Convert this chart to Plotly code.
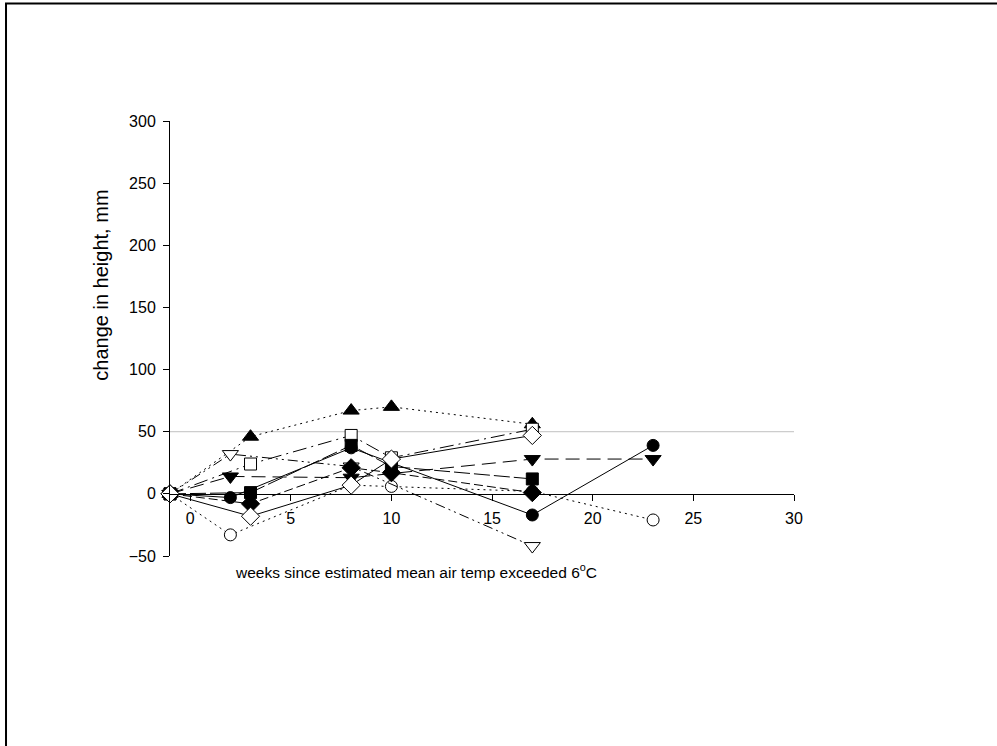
import plotly.graph_objects as go

# ---- data ----
x_fcircle = [-1, 2, 8, 17, 23]
y_fcircle = [0, -3, 37, -17, 39]

x_ocircle = [-1, 2, 8, 10, 17, 23]
y_ocircle = [0, -33, 7, 6, 2, -21]

x_ftriup = [-1, 3, 8, 10, 17]
y_ftriup = [0, 46, 67, 70, 56]

x_otridn = [-1, 2, 8, 17]
y_otridn = [0, 32, 22, -42]

x_ftridn = [-1, 2, 8, 17, 23]
y_ftridn = [0, 14, 13, 28, 28]

x_osquare = [-1, 3, 8, 10, 17]
y_osquare = [0, 24, 47, 29, 52]

x_fsquare = [-1, 3, 8, 10, 17]
y_fsquare = [0, 1, 39, 22, 12]

x_fdiamond = [-1, 3, 8, 10, 17]
y_fdiamond = [0, -8, 21, 17, 1]

x_odiamond = [-1, 3, 8, 10, 17]
y_odiamond = [0, -18, 7, 28, 47]

x_ticks = [0, 5, 10, 15, 20, 25, 30]
y_ticks = [-50, 0, 50, 100, 150, 200, 250, 300]

FONT = "Liberation Sans, Arial, sans-serif"

series = [
    (x_fcircle, y_fcircle, "circle", "black", "solid", 12),
    (x_ocircle, y_ocircle, "circle", "white", "2px,4px", 12),
    (x_ftriup, y_ftriup, "triangle-up", "black", "2px,4px", 14),
    (x_otridn, y_otridn, "triangle-down", "white", "10px,4px,2px,4px,2px,4px", 14),
    (x_ftridn, y_ftridn, "triangle-down", "black", "14px,7px", 14),
    (x_osquare, y_osquare, "square", "white", "14px,5px,2px,5px", 12),
    (x_fsquare, y_fsquare, "square", "black", "16px,4px", 12),
    (x_fdiamond, y_fdiamond, "diamond", "black", "9px,4px", 14),
    (x_odiamond, y_odiamond, "diamond", "white", "solid", 14),
]

fig = go.Figure()
for xs, ys, sym, fill, dash, size in series:
    fig.add_trace(go.Scatter(
        x=xs, y=ys, mode="lines+markers",
        line=dict(color="black", width=1, dash=dash),
        marker=dict(symbol=sym, size=size, color=fill,
                    line=dict(color="black", width=1)),
        showlegend=False, cliponaxis=False,
    ))

# paper fraction where y = 0 lies
y0_frac = (0 - y_ticks[0]) / (y_ticks[-1] - y_ticks[0])

fig.update_layout(
    width=997, height=746,
    margin=dict(l=170, r=203, t=121, b=190),
    paper_bgcolor="white", plot_bgcolor="white",
    font=dict(family=FONT, size=16, color="black"),
    xaxis=dict(range=[-1, 30], tickvals=x_ticks, ticks="outside", ticklen=6,
               tickcolor="black", showline=True, linecolor="black", linewidth=1,
               showgrid=False, zeroline=False, anchor="free", position=y0_frac,
               ticklabelstandoff=4,
               tickfont=dict(family=FONT, size=16)),
    yaxis=dict(range=[-50, 300], tickvals=y_ticks, ticks="outside", ticklen=6,
               tickcolor="black", showline=True, linecolor="black", linewidth=1,
               showgrid=False, zeroline=False, ticklabelstandoff=4,
               tickfont=dict(family=FONT, size=16)),
    shapes=[
        dict(type="line", xref="x", yref="y", x0=-1, x1=30, y0=50, y1=50,
             line=dict(color="#c0c0c0", width=1), layer="below"),
        dict(type="rect", xref="paper", yref="paper", x0=-0.2628, x1=1.40,
             y0=-0.50, y1=1.2704, line=dict(color="black", width=2)),
    ],
    annotations=[
        dict(text="weeks since estimated mean air temp exceeded 6<sup>o</sup>C",
             xref="paper", yref="paper", x=0.394, y=-0.034, showarrow=False,
             xanchor="center", yanchor="middle", font=dict(family=FONT, size=15.5)),
        dict(text="change in height, mm", xref="paper", yref="paper",
             x=-0.1106, y=0.6237, showarrow=False, textangle=-90,
             xanchor="center", yanchor="middle", font=dict(family=FONT, size=20)),
    ],
)

fig.write_html("out.html")
